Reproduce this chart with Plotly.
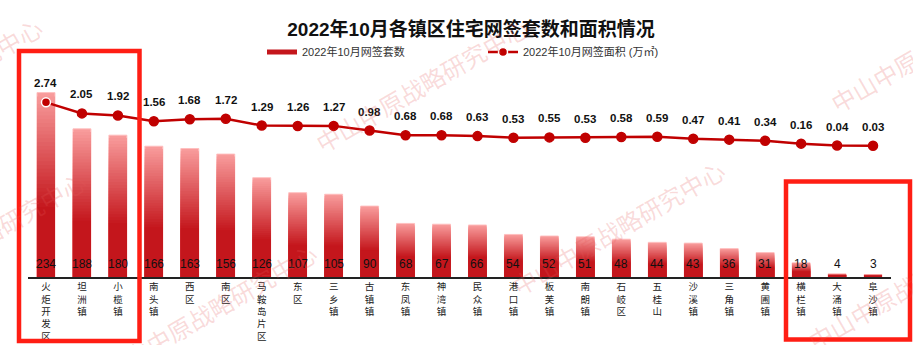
import plotly.graph_objects as go

# ---------------- data ----------------
towns = ["火炬开发区", "坦洲镇", "小榄镇", "南头镇", "西区", "南区", "马鞍岛片区", "东区",
         "三乡镇", "古镇镇", "东凤镇", "神湾镇", "民众镇", "港口镇", "板芙镇", "南朗镇",
         "石岐区", "五桂山", "沙溪镇", "三角镇", "黄圃镇", "横栏镇", "大涌镇", "阜沙镇"]
units = [234, 188, 180, 166, 163, 156, 126, 107, 105, 90, 68, 67, 66, 54, 52, 51,
         48, 44, 43, 36, 31, 18, 4, 3]
area = [2.74, 2.05, 1.92, 1.56, 1.68, 1.72, 1.29, 1.26, 1.27, 0.98, 0.68, 0.68, 0.63,
        0.53, 0.55, 0.53, 0.58, 0.59, 0.47, 0.41, 0.34, 0.16, 0.04, 0.03]
title_text = "2022年10月各镇区住宅网签套数和面积情况"
bar_name = "2022年10月网签套数"
line_name = "2022年10月网签面积 (万㎡)"
watermark = "中山中原战略研究中心"

# ---------------- style ----------------
FONT = "Liberation Sans, Arial, Noto Sans CJK SC"
CJK = "Noto Sans CJK SC, Liberation Sans"
DARK = (196, 22, 28)
LIGHT = (248, 155, 155)
LINE_RED = "#c00000"

W, H = 913, 345
L, R, T, B = 28, 22, 60, 68
plot_w = W - L - R
plot_h = H - T - B

ticktext = ["<br>".join(list(t)) for t in towns]

fig = go.Figure()

# gradient bars: full-height light layer first, then shorter/darker layers on top
N = 30
for k in range(N + 1):
    t = k / N
    f = 1 - 0.62 * t
    c = tuple(round(LIGHT[j] + (DARK[j] - LIGHT[j]) * t) for j in range(3))
    fig.add_trace(go.Bar(
        x=towns, y=[v * f for v in units],
        marker=dict(color="rgb(%d,%d,%d)" % c,
                    line=dict(color="rgba(255,190,190,0.9)" if k == 0 else "rgba(0,0,0,0)",
                              width=1 if k == 0 else 0)),
        showlegend=False, hoverinfo="skip" if k else None,
        name=bar_name,
    ))

# legend entry for the bar series
fig.add_trace(go.Scatter(x=[None], y=[None], mode="lines", name=bar_name,
                         line=dict(color="rgb(%d,%d,%d)" % DARK, width=5)))

# area line on secondary axis
mk_line_colors = ["white"] + [LINE_RED] * (len(area) - 1)
fig.add_trace(go.Scatter(
    x=towns, y=area, yaxis="y2", mode="lines+markers", name=line_name,
    line=dict(color=LINE_RED, width=2.5),
    marker=dict(size=9, color=LINE_RED, line=dict(color=mk_line_colors, width=1.5)),
    cliponaxis=False,
))

annotations = []
for town, u in zip(towns, units):
    annotations.append(dict(x=town, y=0, xref="x", yref="y", text=str(u), showarrow=False,
                            yshift=13.5, yanchor="middle", xanchor="center",
                            font=dict(family=FONT, size=12, color="#111111")))
for town, a in zip(towns, area):
    annotations.append(dict(x=town, y=a, xref="x", yref="y2", text="%.2f" % a,
                            showarrow=False, yshift=19, yanchor="middle", xanchor="center",
                            font=dict(family=FONT, size=11.5, color="#111111", weight="bold")))

# watermarks (pixel centres converted to paper coords)
def px2paper(px, py):
    return (px - L) / plot_w, (H - B - py) / plot_h

for cx, cy in [(422, 85), (618, 227), (210, 310), (-21, 238), (-64, 85), (937, 45), (914, 282)]:
    xp, yp = px2paper(cx, cy)
    annotations.append(dict(x=xp, y=yp, xref="paper", yref="paper", text=watermark,
                            showarrow=False, textangle=-30, xanchor="center", yanchor="middle",
                            font=dict(family=CJK, size=24, color="rgba(228,90,90,0.22)")))

# red highlight boxes (paper coords so they are not clipped to the plot area)
b1x0, b1y1 = px2paper(19, 51)
b1x1, b1y0 = px2paper(139.5, 341)
b2x0, b2y1 = px2paper(786, 181.5)
b2x1, b2y0 = px2paper(910, 339.5)
shapes = [
    dict(type="rect", xref="paper", yref="paper", x0=b1x0, x1=b1x1, y0=b1y0, y1=b1y1,
         line=dict(color="#ff1e14", width=4.5)),
    dict(type="rect", xref="paper", yref="paper", x0=b2x0, x1=b2x1, y0=b2y0, y1=b2y1,
         line=dict(color="#ff1e14", width=4.5)),
]

y_max = plot_h / 0.788
zero_px = 146.2
ppu = 16.0
y2_lo = -(H - B - zero_px) / ppu
y2_hi = (zero_px - T) / ppu

fig.update_layout(
    width=W, height=H,
    margin=dict(l=L, r=R, t=T, b=B, autoexpand=False),
    paper_bgcolor="white", plot_bgcolor="white",
    barmode="overlay", bargap=0.5,
    font=dict(family=FONT, color="#222222"),
    title=dict(text=title_text, x=471 / W, xref="container", xanchor="center",
               y=1 - 29 / H, yref="container", yanchor="middle",
               font=dict(family=FONT, size=19, color="#111111", weight="bold")),
    legend=dict(orientation="h", xref="container", yref="container",
                x=262 / W, xanchor="left", y=1 - 52 / H, yanchor="middle",
                entrywidth=176, entrywidthmode="pixels", itemwidth=30,
                font=dict(family=FONT, size=11, color="#333333"),
                bgcolor="rgba(0,0,0,0)"),
    xaxis=dict(type="category", tickvals=towns, ticktext=ticktext, showline=True,
               linecolor="#222222", linewidth=1.5, ticks="", showgrid=False,
               tickfont=dict(family=CJK, size=9.5, color="#222222"), tickangle=0,
               range=[-0.5, len(towns) - 0.5]),
    yaxis=dict(range=[0, y_max], visible=False, showgrid=False, zeroline=False),
    yaxis2=dict(range=[y2_lo, y2_hi], overlaying="y", visible=False, showgrid=False,
                zeroline=False),
    annotations=annotations, shapes=shapes,
    showlegend=True,
)

fig.write_html("out.html")
